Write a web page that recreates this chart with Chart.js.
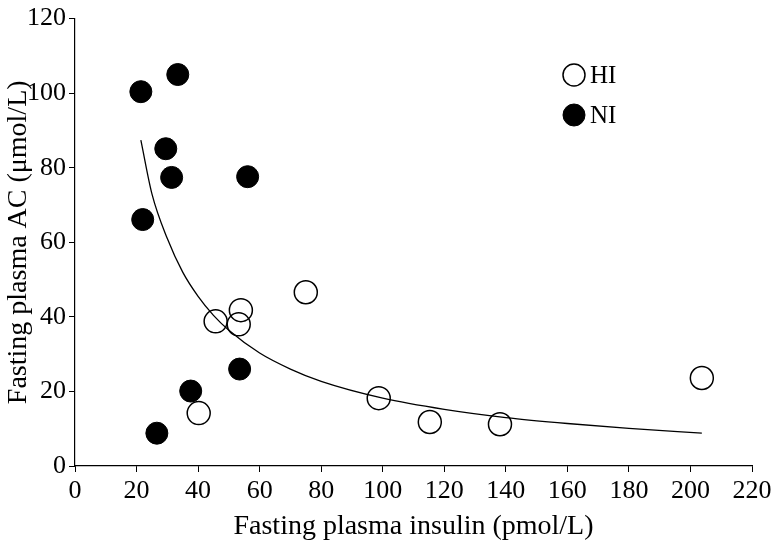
<!DOCTYPE html>
<html>
<head>
<meta charset="utf-8">
<script src="https://cdn.jsdelivr.net/npm/chart.js@4.4.1/dist/chart.umd.min.js"></script>
<style>
  * { margin: 0; padding: 0; box-sizing: border-box; }
  body { background: #fff; width: 779px; height: 547px; overflow: hidden; }
  #wrap { position: relative; width: 779px; height: 547px; }
  canvas { display: block; }
</style>
</head>
<body>
<div id="wrap"><canvas id="chartCanvas" width="779" height="547"></canvas></div>
<script>
// HI group (open circles)
const hiInsulin = [45.7, 53.9, 53.2, 75.0, 40.2, 98.7, 115.3, 138.1, 203.7];
const hiAC      = [38.8, 41.8, 38.0, 46.6, 14.2, 18.2, 11.8, 11.2, 23.6];
// NI group (filled circles)
const niInsulin = [21.4, 33.4, 29.5, 31.4, 56.1, 22.0, 53.5, 37.6, 26.6];
const niAC      = [100.4, 105.0, 85.1, 77.4, 77.6, 66.1, 26.0, 20.1, 8.8];
// fitted curve
const fitInsulin = [21.4, 25, 30, 35, 40, 45, 50, 60, 70, 80, 100, 120, 140, 160, 180, 203.7];
const fitAC      = [87.4, 73, 61, 52, 45.5, 40.4, 36.4, 30.3, 26, 22.7, 18.2, 15.2, 13, 11.4, 10.1, 8.8];

const seriesNames = ['HI', 'NI'];
const xTitle = 'Fasting plasma insulin (pmol/L)';
const yTitle = 'Fasting plasma AC (\u03bcmol/L)';

const FONT = '"Liberation Serif", "Times New Roman", serif';

const toPts = (xs, ys) => xs.map((x, i) => ({x: x, y: ys[i]}));

// legend drawn inside the plot, top right
const legendPlugin = {
  id: 'cornerLegend',
  afterDraw(chart) {
    const ctx = chart.ctx;
    const items = chart.data.datasets.filter(d => !d.hideInLegend);
    ctx.save();
    items.forEach((d, i) => {
      const cx = 574, cy = 75 + i * 40;
      ctx.beginPath();
      ctx.arc(cx, cy, 11, 0, 2 * Math.PI);
      ctx.fillStyle = d.backgroundColor;
      ctx.fill();
      ctx.lineWidth = d.borderWidth;
      ctx.strokeStyle = '#000';
      ctx.stroke();
      ctx.fillStyle = '#000';
      ctx.font = '25px ' + FONT;
      ctx.textBaseline = 'middle';
      ctx.textAlign = 'left';
      ctx.fillText(d.label, 590, cy + 1);
    });
    ctx.restore();
  }
};

new Chart(document.getElementById('chartCanvas'), {
  type: 'scatter',
  data: {
    datasets: [
      {
        label: seriesNames[0],
        data: toPts(hiInsulin, hiAC),
        pointRadius: 11.5,
        pointHoverRadius: 11.5,
        backgroundColor: 'rgba(255,255,255,0)',
        borderColor: '#000',
        borderWidth: 1.5,
        order: 1
      },
      {
        label: seriesNames[1],
        data: toPts(niInsulin, niAC),
        pointRadius: 11,
        pointHoverRadius: 11,
        backgroundColor: '#000',
        borderColor: '#000',
        borderWidth: 1,
        order: 2
      },
      {
        label: 'fit',
        hideInLegend: true,
        data: toPts(fitInsulin, fitAC),
        showLine: true,
        pointRadius: 0,
        borderColor: '#000',
        borderWidth: 1.3,
        cubicInterpolationMode: 'monotone',
        fill: false,
        order: 0
      }
    ]
  },
  options: {
    responsive: false,
    animation: false,
    devicePixelRatio: 1,
    layout: {padding: {top: 18, right: 27, left: 0, bottom: 0}},
    plugins: {
      legend: {display: false},
      tooltip: {enabled: false}
    },
    scales: {
      x: {
        type: 'linear',
        min: 0,
        max: 220,
        afterFit: s => { s.height = 81; },
        ticks: {stepSize: 20, color: '#000', font: {family: FONT, size: 26}, padding: 4, maxRotation: 0, autoSkip: false},
        grid: {display: true, drawOnChartArea: false, drawTicks: true, tickLength: 6, color: '#000', lineWidth: 1},
        border: {display: true, color: '#000', width: 1.2},
        title: {display: true, text: xTitle, color: '#000', font: {family: FONT, size: 28}, padding: {top: 0, bottom: 4}}
      },
      y: {
        type: 'linear',
        min: 0,
        max: 120,
        afterFit: s => { s.width = 75; },
        ticks: {stepSize: 20, color: '#000', font: {family: FONT, size: 26}, padding: 3},
        grid: {display: true, drawOnChartArea: false, drawTicks: true, tickLength: 6, color: '#000', lineWidth: 1},
        border: {display: true, color: '#000', width: 1.2},
        title: {display: true, text: yTitle, color: '#000', font: {family: FONT, size: 28}, padding: {top: 2, bottom: 0}}
      }
    }
  },
  plugins: [legendPlugin]
});
</script>
</body>
</html>
